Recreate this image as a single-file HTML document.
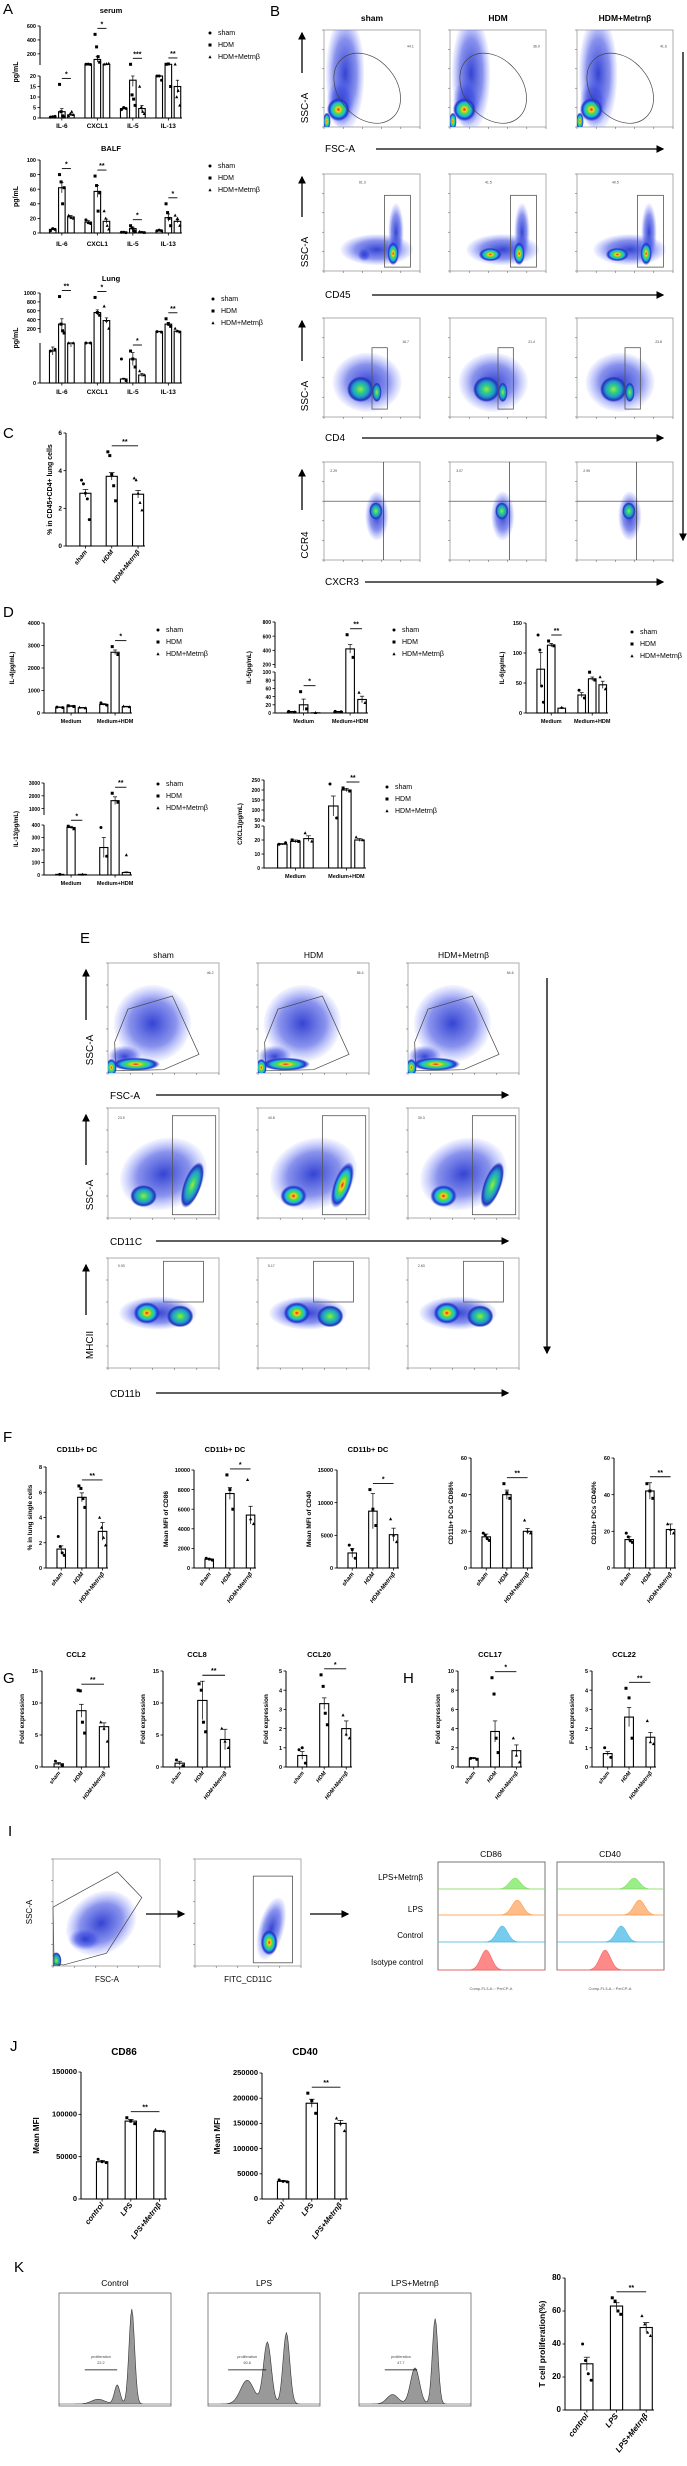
<!DOCTYPE html>
<html><head><meta charset="utf-8"><style>
html,body{margin:0;padding:0;background:#fff;}
svg{display:block;font-family:"Liberation Sans",Arial,sans-serif;}
</style></head><body>
<svg id="fig" width="687" height="2466" viewBox="0 0 687 2466" xmlns="http://www.w3.org/2000/svg">
<defs>
<radialGradient id="heat"><stop offset="0" stop-color="#e11"/><stop offset="0.18" stop-color="#fc2"/><stop offset="0.38" stop-color="#4d4"/><stop offset="0.58" stop-color="#2bd"/><stop offset="0.8" stop-color="#23c"/><stop offset="1" stop-color="#23c" stop-opacity="0"/></radialGradient>
<radialGradient id="heatg"><stop offset="0" stop-color="#9e3"/><stop offset="0.3" stop-color="#3c8"/><stop offset="0.6" stop-color="#29c"/><stop offset="0.85" stop-color="#23b"/><stop offset="1" stop-color="#23b" stop-opacity="0"/></radialGradient>
<radialGradient id="cloud"><stop offset="0" stop-color="#2a3ad0" stop-opacity="0.95"/><stop offset="0.6" stop-color="#3a4ae0" stop-opacity="0.6"/><stop offset="1" stop-color="#6070ff" stop-opacity="0.05"/></radialGradient>
<marker id="ah" markerWidth="6" markerHeight="6" refX="5" refY="3" orient="auto"><path d="M0,0 L6,3 L0,6 z" fill="#000"/></marker>
</defs>
</svg>
<script>
// ---------- DATA ----------
const groupNames = ['sham','HDM','HDM+Metrnβ'];
const aCats = ['IL-6','CXCL1','IL-5','IL-13'];
const serumVals = [[0.5,3,1.5],[50,120,50],[4.5,18,4.5],[30,50,15]];
const serumErr  = [[0.1,1.5,0.5],[3,40,3],[0.5,3,1.5],[2,3,3]];
const serumDots = [[[0.4,0.6,0.8],[16,3,1,0.5],[1,2,3,1.5]],[[50,52,48],[480,300,160,80],[50,55,60]],[[4,5,4.5],[50,11,9,6],[15,5,3,2]],[[20,20,18],[50,55,15],[50,10,13,6]]];
const balfVals = [[5,62,22],[15,57,16],[1,6,1.5],[3,21,16]];
const balfErr  = [[1,7,2],[2,8,3],[0.3,2,0.5],[0.5,5,2]];
const balfDots = [[[3,6,5],[80,70,40,62],[24,21,20]],[[18,14,13],[78,65,30,55],[30,20,10,5]],[[1,1,0.5],[10,7,3,2],[2,1,0.5]],[[3,4,3],[40,28,20,10],[24,20,10]]];
const lungVals = [[40,300,50],[60,560,380],[5,30,10],[130,300,140]];
const lungErr  = [[5,120,5],[8,60,60],[1,8,2],[10,40,15]];
const lungDots = [[[40,42],[920,300,150,100],[50,60]],[[60,70],[900,560,500],[700,380,200]],[[30,3],[40,30,20],[15,10]],[[130,120],[420,300,250],[200,140,120]]];
const cVals = [2.8,3.7,2.75];
const cErr = [0.2,0.2,0.2];
const cDots = [[3.5,3.3,2.8,2.5,1.4],[5,4.8,3.8,3.2,2.4],[3.6,3.5,2.8,2.3,1.9]];
const dCats = ['Medium','Medium+HDM'];
const il4Vals=[[250,300,230],[380,2700,280]]; const il4Err=[[20,30,20],[40,100,20]];
const il4Dots=[[[260,240],[320,290],[250,220]],[[450,350],[2950,2600],[300,270]]];
const il5Vals=[[3,20,0.5],[3,420,33]]; const il5Err=[[1,14,0.2],[1,60,8]];
const il5Dots=[[[4,2],[52,10],[0.5]],[[4,3],[620,300],[50,25]]];
const il6Vals=[[73,113,8],[30,57,47]]; const il6Err=[[28,3,1],[4,3,6]];
const il6Dots=[[[130,105,45,18],[120,112],[9]],[[38,25],[68,55],[60,40]]];
const il13Vals=[[5,380,5],[220,1620,20]]; const il13Err=[[1,10,1],[80,300,5]];
const il13Dots=[[[5],[390,370],[5]],[[380,150],[2200,1500],[160]]];
const cxclVals=[[17,19,21],[120,200,20]]; const cxclErr=[[0.5,1,2],[50,8,1]];
const cxclDots=[[[17,18],[20,19],[25,19]],[[230,60],[210,195],[22,20]]];
const fVals=[[1.5,5.6,2.9],[900,7600,5400],[2300,8700,5100],[17,40,20],[15.5,42,21]];
const fErr=[[0.25,0.35,0.7],[60,600,900],[700,2700,1000],[1.5,2.5,1.5],[1.5,4.5,3]];
const fDots=[[[2.5,1.7,1.2,1.0],[6.5,6.3,5.5,4.8],[4,3.2,2.4,1.8]],[[1000,900,800],[9500,8000,6000],[9000,5000,4500]],[[3500,2800,1500],[12000,9000,6500],[7500,5000,4000]],[[19,18,16,15],[46,41,38],[26,20,19]],[[19,17,15,14],[46,42,38],[24,21,19]]];
const fTicks=[[0,2,4,6,8],[0,2000,4000,6000,8000,10000],[0,5000,10000,15000],[0,20,40,60],[0,20,40,60]];
const fMax=[8,10000,15000,60,60];
const gNames=['CCL2','CCL8','CCL20','CCL17','CCL22'];
const gVals=[[0.5,8.8,6.3],[0.6,10.4,4.3],[0.6,3.3,2.0],[0.9,3.7,1.7],[0.7,2.6,1.55]];
const gErr=[[0.2,1.0,0.6],[0.3,3.0,1.6],[0.2,0.3,0.4],[0.1,1.1,0.6],[0.1,0.5,0.25]];
const gDots=[[[0.9,0.3],[12,11.9,7,5.3],[7,6,4]],[[1.1,0.2],[13,12,7,5.5],[6,4,3]],[[0.9,1.0,0.2],[4.8,4.2,2.8,2.2],[2.7,1.7,1.5]],[[0.9,0.8],[9.3,7.6,3,1.5],[3,1.2,0.5]],[[1.0,0.5],[4.1,3.6,1.5],[2.4,1.3,1.2]]];
const gMax=[15,15,5,10,5];
const gTicks=[[0,5,10,15],[0,5,10,15],[0,1,2,3,4,5],[0,2,4,6,8,10],[0,1,2,3,4,5]];
const lpsNames=['control','LPS','LPS+Metrnβ'];
const jVals=[[44000,92000,80000],[35000,190000,150000]];
const jErr=[[1500,2000,1000],[2000,8000,6000]];
const jDots=[[[47000,44000,43000],[96000,92000,89000],[82000,80000]],[[38000,35000,34000],[210000,195000,170000],[160000,150000,135000]]];
const kVals=[28,63,50];
const kErr=[4,2,3];
const kDots=[[40,30,22,18],[68,66,60,58],[57,52,47,45]];

// ---------- helpers ----------
const NS='http://www.w3.org/2000/svg';
const svg=document.getElementById('fig');
function mk(tag,attrs,parent){const e=document.createElementNS(NS,tag);for(const k in attrs)e.setAttribute(k,attrs[k]);(parent||svg).appendChild(e);return e;}
function txt(x,y,s,opt,parent){const t=mk('text',Object.assign({x:x,y:y,'font-size':7,'text-anchor':'middle',fill:'#000'},opt||{}),parent);t.textContent=s;return t;}
function fmt(v){return String(v);}

function panelLetter(x,y,s){const t=txt(x,y,s,{'font-size':15,'text-anchor':'start'});

}

function marker(g,shape,x,y){let e;
 if(shape===0)e=mk('circle',{cx:x,cy:y,r:1.5,fill:'#000'},g);
 else if(shape===1)e=mk('rect',{x:x-1.5,y:y-1.5,width:3,height:3,fill:'#000'},g);
 else e=mk('path',{d:`M${x},${y-1.8}L${x+1.6},${y+1.2}L${x-1.6},${y+1.2}Z`,fill:'#000'},g);
 
 }

function legend(x,y,name){const g=mk('g',{});
 
 
 groupNames.forEach((n,i)=>{marker(g,i,x,y+i*12-2);txt(x+8,y+i*12,n,{'text-anchor':'start','font-size':7},g);});}

function barChart(c){
 const g=mk('g',{});
 
 
 const segs=c.segs;
 function Y(v){for(let i=0;i<segs.length;i++){const s=segs[i];if(v<=s[1]){if(v<s[0])return segs[i-1]?segs[i-1][3]:s[2];return s[2]+(v-s[0])/(s[1]-s[0])*(s[3]-s[2]);}}const l=segs[segs.length-1];return l[3];}
 const nC=c.vals.length,G=c.vals[0].length;
 const unit=(c.x1-c.x0)/(nC*G+(nC-1)*0.9+0.9);
 const bw=unit*(c.bwf||0.72);
 const base=Y(0);
 segs.forEach(s=>{const a=mk('line',{x1:c.x0,x2:c.x0,y1:s[2],y2:s[3],stroke:'#000','stroke-width':1},g);
   });
 const xa=mk('line',{x1:c.x0,x2:c.x1,y1:base,y2:base,stroke:'#000','stroke-width':1},g);
  
 c.ticks.forEach(t=>{const yy=Y(t);mk('line',{x1:c.x0-2.5,x2:c.x0,y1:yy,y2:yy,stroke:'#000','stroke-width':0.8},g);
  const tl=txt(c.x0-4,yy+2.2,fmt(t),{'text-anchor':'end','font-size':c.tfs||6,'font-weight':'bold'},g);
   });
 const centers=[];const tops=[];
 for(let ci=0;ci<nC;ci++){for(let gi=0;gi<G;gi++){
  const cx=c.x0+unit*(0.9+ci*(G+0.9)+gi+0.5);centers.push(cx);
  const v=c.vals[ci][gi],yv=Y(v);
  const b=mk('rect',{x:cx-bw/2,y:Math.min(yv,base),width:bw,height:Math.abs(base-yv),fill:'#fff',stroke:'#000','stroke-width':1.1},g);
  
  
  const e=c.errs?c.errs[ci][gi]:0;
  if(e){const y1=Y(v+e),y2=Y(Math.max(0,v-e));
   mk('line',{x1:cx,x2:cx,y1:y1,y2:y2,stroke:'#000','stroke-width':0.7},g);
   mk('line',{x1:cx-bw*0.25,x2:cx+bw*0.25,y1:y1,y2:y1,stroke:'#000','stroke-width':0.7},g);}
  let top=Y(v+e);
  const shape=G>1?gi:ci;
  if(c.dots){const d=c.dots[ci][gi];d.forEach((dv,k)=>{const off=d.length>1?(k/(d.length-1)-0.5)*bw*0.7:0;const yy=Y(dv);top=Math.min(top,yy);marker(g,shape,cx+off,yy);});}
  tops.push(top);
 }
  if(G>1){const gc=(centers[ci*G]+centers[ci*G+G-1])/2;
   if(c.tickCats){mk('line',{x1:gc,x2:gc,y1:base,y2:base+2.5,stroke:'#000','stroke-width':0.8},g);}
   const l=txt(gc,base+(c.catDy||10),c.cats[ci],{'font-size':c.cfs||6.5,'font-weight':'bold'},g);
    }
 }
 if(G===1){centers.forEach((cx,i)=>{mk('line',{x1:cx,x2:cx,y1:base,y2:base+2.5,stroke:'#000','stroke-width':0.8},g);
  const l=txt(cx+2,base+6,c.cats[i],{'text-anchor':'end','font-size':c.cfs||6.5,'font-weight':'bold','font-style':'italic',transform:`rotate(-52 ${cx+2} ${base+6})`},g);
   });}
 (c.sig||[]).forEach(s=>{const a=s[0],b=s[1];const yy=Math.min(...tops.slice(a,b+1))-(s[3]||6);
  const ln=mk('line',{x1:centers[a],x2:centers[b],y1:yy,y2:yy,stroke:'#000','stroke-width':0.9},g);
   
  txt((centers[a]+centers[b])/2,yy-2,s[2],{'font-size':7,'font-weight':'bold'},g);});
 if(c.title){const t=txt((c.x0+c.x1)/2,c.titleY,c.title,{'font-size':c.titleFs||7.5,'font-weight':'bold'},g);
   }
 if(c.ylabel){const my=(segs[0][2]+segs[segs.length-1][3])/2;const yx=c.x0-(c.ylx||24);
  const t=txt(yx,my,c.ylabel,{'font-size':c.yfs||7,'font-weight':'bold',transform:`rotate(-90 ${yx} ${my})`},g);
   }
}

function arrow(x1,y1,x2,y2,name){const a=mk('line',{x1:x1,y1:y1,x2:x2,y2:y2,stroke:'#000','stroke-width':1.3,'marker-end':'url(#ah)'});
  }

function flow(name,x,y,w,h,blobs,gate,num){
 const g=mk('g',{});
 
 
 mk('rect',{x:x,y:y,width:w,height:h,fill:'#fff',stroke:'#999','stroke-width':0.8},g);
 const cp='cp'+Math.round(x)+'_'+Math.round(y);
 const cl=mk('clipPath',{id:cp},g);mk('rect',{x:x,y:y,width:w,height:h},cl);
 const inner=mk('g',{'clip-path':`url(#${cp})`},g);
 blobs.forEach(b=>{const id=b[4]==='h'?'heat':b[4]==='g'?'heatg':'cloud';
  const cx=x+b[0]*w,cy=y+b[1]*h;
  mk('ellipse',{cx:cx,cy:cy,rx:b[2]*w,ry:b[3]*h,fill:`url(#${id})`,transform:`rotate(${b[5]||0} ${cx} ${cy})`},inner);});
 if(gate){
  if(gate.t==='rect')mk('rect',{x:x+gate.a*w,y:y+gate.b*h,width:(gate.c-gate.a)*w,height:(gate.d-gate.b)*h,fill:'none',stroke:'#555','stroke-width':0.8},g);
  if(gate.t==='ell'){const cx=x+gate.a*w,cy=y+gate.b*h;mk('ellipse',{cx:cx,cy:cy,rx:gate.c*w,ry:gate.d*h,fill:'none',stroke:'#444','stroke-width':0.7,transform:`rotate(-40 ${cx} ${cy})`},inner);}
  if(gate.t==='quad'){mk('line',{x1:x+gate.a*w,x2:x+gate.a*w,y1:y,y2:y+h,stroke:'#333','stroke-width':0.7},g);mk('line',{x1:x,x2:x+w,y1:y+gate.b*h,y2:y+gate.b*h,stroke:'#333','stroke-width':0.7},g);}
  if(gate.t==='poly'){mk('polygon',{points:gate.p.map(p=>(x+p[0]*w)+','+(y+p[1]*h)).join(' '),fill:'none',stroke:'#444','stroke-width':0.7},g);}
 }
 for(let i=0;i<=5;i++){mk('line',{x1:x+i*w/5,x2:x+i*w/5,y1:y+h,y2:y+h+2,stroke:'#555','stroke-width':0.5},g);mk('line',{x1:x-2,x2:x,y1:y+h-i*h/5,y2:y+h-i*h/5,stroke:'#555','stroke-width':0.5},g);}
 if(num)txt(x+(num[1]||0.9)*w,y+(num[2]||0.15)*h,num[0],{'font-size':3.5,fill:'#444'},g);
}

// ---------- PANEL A ----------
panelLetter(3,14,'A');
barChart({name:'serum-chart',x0:40,x1:182,segs:[[0,20,118,76],[40,600,65,26]],ticks:[0,5,10,15,20,200,400,600],vals:serumVals,errs:serumErr,dots:serumDots,cats:aCats,sig:[[1,2,'*'],[4,5,'*'],[7,8,'***'],[10,11,'**']],title:'serum',titleY:13,ylabel:'pg/mL',ylx:22,tfs:5.5,tickCats:true});
legend(210,35,'serum-legend');
barChart({name:'balf-chart',x0:40,x1:182,segs:[[0,100,233,160]],ticks:[0,20,40,60,80,100],vals:balfVals,errs:balfErr,dots:balfDots,cats:aCats,sig:[[1,2,'*'],[4,5,'**'],[7,8,'*'],[10,11,'*']],title:'BALF',titleY:151,ylabel:'pg/mL',ylx:22,tfs:5.5,tickCats:true,catDy:13});
legend(210,168,'balf-legend');
barChart({name:'lung-chart',x0:40,x1:182,segs:[[0,50,383,343],[100,1000,333,293]],ticks:[0,200,400,600,800,1000],vals:lungVals,errs:lungErr,dots:lungDots,cats:aCats,sig:[[1,2,'**'],[4,5,'*'],[7,8,'*'],[10,11,'**']],title:'Lung',titleY:281,ylabel:'pg/mL',ylx:22,tfs:5.5,tickCats:true,catDy:11});
legend(213,301,'lung-legend');

// ---------- PANEL C ----------
panelLetter(3,438,'C');
barChart({name:'cd4-percent-chart',x0:66,x1:145,segs:[[0,6,546,433]],ticks:[0,2,4,6],vals:[[cVals[0]],[cVals[1]],[cVals[2]]],errs:[[cErr[0]],[cErr[1]],[cErr[2]]],dots:[[cDots[0]],[cDots[1]],[cDots[2]]],cats:groupNames,sig:[[1,2,'**']],ylabel:'% in CD45+CD4+ lung cells',ylx:14,tfs:6.5,bwf:0.8});

// ---------- PANEL B ----------
panelLetter(270,16,'B');
const bCols=[324,450,577], bW=96;
['sham','HDM','HDM+Metrnβ'].forEach((s,i)=>{const t=txt(bCols[i]+bW/2,21,s,{'font-size':8.5,'font-weight':'bold'});});
const bRows=[[30,97],[174,97],[318,99],[462,98]];
const bNums=[['44.1','36.0','41.6'],['61.3','41.5','40.5'],['16.7','21.4','23.8'],['2.29','3.07','2.99']];
bCols.forEach((x,i)=>{
 flow('b-fsc-plot-'+i,x,bRows[0][0],bW,bRows[0][1],[[0.22,0.45,0.2,0.6,'c'],[0.17,0.75,0.14,0.25,'c'],[0.15,0.82,0.12,0.12,'h'],[0.03,0.94,0.04,0.09,'h']],{t:'ell',a:0.45,b:0.6,c:0.3,d:0.4},[bNums[0][i],0.9,0.18]);
 flow('b-cd45-plot-'+i,x,bRows[1][0],bW,bRows[1][1],[[0.55,0.78,0.38,0.16,'c'],[0.75,0.6,0.08,0.3,'c'],[0.72,0.82,0.06,0.12,'h'],[0.42,0.83,i?0.12:0.07,0.07,i?'h':'c']],{t:'rect',a:0.63,b:0.22,c:0.9,d:0.96},[bNums[1][i],0.4,0.1]);
 flow('b-cd4-plot-'+i,x,bRows[2][0],bW,bRows[2][1],[[0.45,0.65,0.36,0.3,'c'],[0.38,0.72,0.14,0.13,'g'],[0.55,0.75,0.05,0.1,'g']],{t:'rect',a:0.5,b:0.3,c:0.66,d:0.92},[bNums[2][i],0.85,0.25]);
 flow('b-ccr4-plot-'+i,x,bRows[3][0],bW,bRows[3][1],[[0.55,0.55,0.12,0.25,'c'],[0.54,0.5,0.07,0.09,'g']],{t:'quad',a:0.62,b:0.4},[bNums[3][i],0.1,0.1]);
});
[['SSC-A',78],['SSC-A',222],['SSC-A',366],['CCR4',515]].forEach((l,i)=>{const t=txt(308,l[1]+30,l[0],{'font-size':10,transform:`rotate(-90 308 ${l[1]+30})`});
 arrow(302,l[1]-5,302,l[1]-45,'y-axis-arrow');});
[['FSC-A',149,376],['CD45',295,372],['CD4',438,362],['CXCR3',582,365]].forEach(l=>{const t=txt(325,l[1]+3,l[0],{'font-size':10,'text-anchor':'start'});
 arrow(l[2],l[1],663,l[1],'x-axis-arrow');});
arrow(683,52,683,540,'gating-flow-arrow');

// ---------- PANEL D ----------
panelLetter(3,617,'D');
barChart({name:'il4-chart',x0:44,x1:132,segs:[[0,4000,713,623]],ticks:[0,1000,2000,3000,4000],vals:il4Vals,errs:il4Err,dots:il4Dots,cats:dCats,sig:[[4,5,'*']],ylabel:'IL-4(pg/mL)',ylx:30,tfs:5.5,yfs:6,cfs:5.5,tickCats:true});
legend(158,632,'il4-legend');
barChart({name:'il5-chart',x0:275,x1:368,segs:[[0,100,713,672],[150,800,668,622]],ticks:[0,20,40,60,80,100,200,400,600,800],vals:il5Vals,errs:il5Err,dots:il5Dots,cats:dCats,sig:[[1,2,'*'],[4,5,'**']],ylabel:'IL-5(pg/mL)',ylx:24,tfs:5,yfs:6,cfs:5.5,tickCats:true});
legend(394,632,'il5-legend');
barChart({name:'il6-chart',x0:526,x1:608,segs:[[0,150,713,623]],ticks:[0,50,100,150],vals:il6Vals,errs:il6Err,dots:il6Dots,cats:dCats,sig:[[1,2,'**']],ylabel:'IL-6(pg/mL)',ylx:22,tfs:5.5,yfs:6,cfs:5.5,tickCats:true});
legend(632,634,'il6-legend');
barChart({name:'il13-chart',x0:44,x1:132,segs:[[0,400,875,825],[500,3000,815,783]],ticks:[0,100,200,300,400,1000,2000,3000],vals:il13Vals,errs:il13Err,dots:il13Dots,cats:dCats,sig:[[1,2,'*'],[4,5,'**']],ylabel:'IL-13(pg/mL)',ylx:26,tfs:5,yfs:6,cfs:5.5,tickCats:true});
legend(158,786,'il13-legend');
barChart({name:'cxcl1-chart',x0:264,x1:366,segs:[[0,30,868,826],[40,250,822,780]],ticks:[0,10,20,30,50,100,150,200,250],vals:cxclVals,errs:cxclErr,dots:cxclDots,cats:dCats,sig:[[4,5,'**']],ylabel:'CXCL1(pg/mL)',ylx:22,tfs:5,yfs:6,cfs:5.5,tickCats:true});
legend(387,789,'cxcl1-legend');

// ---------- PANEL E ----------
panelLetter(80,943,'E');
const eCols=[108,258,408], eW=111;
['sham','HDM','HDM+Metrnβ'].forEach((s,i)=>{const t=txt(eCols[i]+eW/2,958,s,{'font-size':8.5});});
const eNums=[['46.2','56.4','54.6'],['23.9','40.8','30.3'],['0.93','5.17','2.63']];
eCols.forEach((x,i)=>{
 flow('e-fsc-plot-'+i,x,963,eW,110,[[0.4,0.55,0.35,0.35,'c',-35],[0.15,0.85,0.15,0.1,'c'],[0.25,0.92,0.22,0.06,'h'],[0.03,0.95,0.05,0.08,'h']],{t:'poly',p:[[0.07,0.98],[0.06,0.72],[0.18,0.42],[0.58,0.3],[0.82,0.83],[0.5,0.97]]},[eNums[0][i],0.92,0.1]);
 flow('e-cd11c-plot-'+i,x,1108,eW,110,[[0.5,0.6,0.4,0.32,'c',-20],[0.32,0.8,0.12,0.1,i?'h':'g'],[0.76,0.7,0.08,0.22,i===1?'h':'g',20]],{t:'rect',a:0.58,b:0.07,c:0.97,d:0.97},[eNums[1][i],0.12,0.1]);
 flow('e-mhcii-plot-'+i,x,1258,eW,110,[[0.45,0.5,0.35,0.15,'c'],[0.35,0.5,0.12,0.1,'h'],[0.65,0.53,0.12,0.1,'g']],{t:'rect',a:0.5,b:0.03,c:0.86,d:0.4},[eNums[2][i],0.12,0.08]);
});
[['SSC-A',1025],['SSC-A',1170],['MHCII',1320]].forEach(l=>{const t=txt(93,l[1]+25,l[0],{'font-size':10,transform:`rotate(-90 93 ${l[1]+25})`});
 arrow(86,l[1]-5,86,l[1]-55,'y-axis-arrow');});
[['FSC-A',1095],['CD11C',1241],['CD11b',1393]].forEach(l=>{const t=txt(110,l[1]+4,l[0],{'font-size':10,'text-anchor':'start'});
 arrow(156,l[1],508,l[1],'x-axis-arrow');});
arrow(547,978,547,1353,'gating-flow-arrow');

// ---------- PANEL F ----------
panelLetter(3,1442,'F');
const fX=[[46,108],[194,256],[337,399],[471,533],[614,676]];
const fTop=[1467,1470,1470,1458,1458];
const fTitles=['CD11b+ DC','CD11b+ DC','CD11b+ DC','',''];
const fY=['% in lung single cells','Mean MFI of CD86','Mean MFI of CD40','CD11b+ DCs CD86%','CD11b+ DCs CD40%'];
const fSig=['**','*','*','**','**'];
fVals.forEach((v,i)=>{barChart({name:'f-chart-'+i,x0:fX[i][0],x1:fX[i][1],segs:[[0,fMax[i],1568,fTop[i]]],ticks:fTicks[i],vals:v.map(a=>[a]),errs:fErr[i].map(a=>[a]),dots:fDots[i].map(a=>[a]),cats:groupNames,sig:[[1,2,fSig[i]]],title:fTitles[i],titleY:1452,ylabel:fY[i],ylx:i===0?14:(i<3?26:18),tfs:5.5,yfs:6.5,cfs:6,bwf:0.78});});

// ---------- PANEL G / H ----------
panelLetter(3,1683,'G'); panelLetter(403,1683,'H');
const gX=[[42,110],[163,231],[286,352],[458,522],[592,656]];
const gSig=['**','**','*','*','**'];
gVals.forEach((v,i)=>{barChart({name:'g-chart-'+gNames[i].toLowerCase(),x0:gX[i][0],x1:gX[i][1],segs:[[0,gMax[i],1767,1671]],ticks:gTicks[i],vals:v.map(a=>[a]),errs:gErr[i].map(a=>[a]),dots:gDots[i].map(a=>[a]),cats:groupNames,sig:[[1,2,gSig[i]]],title:gNames[i],titleY:1657,ylabel:'Fold expression',ylx:18,tfs:5.5,yfs:6.5,cfs:5.5,bwf:0.78});});

// ---------- PANEL I ----------
panelLetter(8,1836,'I');
flow('i-fsc-plot',53,1859,107,107,[[0.45,0.6,0.35,0.28,'c',-35],[0.3,0.75,0.15,0.1,'c'],[0.03,0.95,0.05,0.08,'g']],{t:'poly',p:[[0.01,0.98],[0.0,0.45],[0.6,0.12],[0.83,0.36],[0.5,0.88],[0.1,0.99]]});
flow('i-cd11c-plot',195,1859,106,107,[[0.72,0.65,0.12,0.3,'c',15],[0.7,0.78,0.08,0.12,'h']],{t:'rect',a:0.55,b:0.16,c:0.92,d:0.97});
const t1=txt(32,1912,'SSC-A',{'font-size':8,transform:'rotate(-90 32 1912)'});
const t2=txt(107,1982,'FSC-A',{'font-size':8});
const t3=txt(248,1982,'FITC_CD11C',{'font-size':8});
arrow(146,1914,184,1914,'gating-arrow'); arrow(310,1914,348,1914,'gating-arrow');
const histRows=[['LPS+Metrnβ','#9e8','#8d6',1880],['LPS','#fb8','#f9a050',1912],['Control','#7ce','#5bd',1938],['Isotype control','#f88','#e66',1965]];
histRows.forEach(r=>{const t=txt(423,r[3],r[0],{'font-size':8,'text-anchor':'end'});});
const histPeaks=[[0.72,0.55],[0.74,0.75],[0.6,0.8],[0.45,1.0]];
function gaussPath(x,w,yb,hgt,mu,sd){let d=`M${x},${yb}`;for(let k=0;k<=60;k++){const f=k/60;d+=`L${x+f*w},${yb-hgt*Math.exp(-((f-mu)*(f-mu))/(2*sd*sd))}`;}return d+`L${x+w},${yb}Z`;}
[[438,'CD86'],[557,'CD40']].forEach((b,bi)=>{
 const g=mk('g',{});
 mk('rect',{x:b[0],y:1862,width:107,height:108,fill:'#fff',stroke:'#555','stroke-width':0.8},g);
 txt(b[0]+53,1857,b[1],{'font-size':8.5},g);
 const bases=[1889,1915,1942,1970];
 histRows.forEach((r,i)=>{const pk=histPeaks[i];const mu=bi&&i===1?0.77:pk[0];
  mk('path',{d:gaussPath(b[0],107,bases[i],pk[1]*20,mu,0.05),fill:r[1],stroke:r[2],'stroke-width':0.6},g);
  mk('line',{x1:b[0],x2:b[0]+107,y1:bases[i],y2:bases[i],stroke:r[2],'stroke-width':0.8},g);});
 txt(b[0]+53,1990,'Comp-FL3-A :: PerCP-A',{'font-size':4,fill:'#555'},g);
});

// ---------- PANEL J ----------
panelLetter(10,2051,'J');
barChart({name:'j-cd86-chart',x0:81,x1:167,segs:[[0,150000,2199,2072]],ticks:[0,50000,100000,150000],vals:jVals[0].map(a=>[a]),errs:jErr[0].map(a=>[a]),dots:jDots[0].map(a=>[a]),cats:lpsNames,sig:[[1,2,'**']],title:'CD86',titleY:2055,titleFs:10,ylabel:'Mean MFI',ylx:42,tfs:7.5,yfs:8,cfs:7.5,bwf:0.75});
barChart({name:'j-cd40-chart',x0:262,x1:348,segs:[[0,250000,2199,2073]],ticks:[0,50000,100000,150000,200000,250000],vals:jVals[1].map(a=>[a]),errs:jErr[1].map(a=>[a]),dots:jDots[1].map(a=>[a]),cats:lpsNames,sig:[[1,2,'**']],title:'CD40',titleY:2055,titleFs:10,ylabel:'Mean MFI',ylx:42,tfs:7.5,yfs:8,cfs:7.5,bwf:0.75});

// ---------- PANEL K ----------
panelLetter(14,2272,'K');
const kTitles=['Control','LPS','LPS+Metrnβ'];
const kBox=[59,208,359];
const kPeaks=[[[0.65,1.0,0.025],[0.52,0.2,0.025],[0.35,0.05,0.06]],[[0.7,0.75,0.03],[0.53,0.65,0.035],[0.35,0.25,0.06]],[[0.68,0.9,0.025],[0.5,0.38,0.04],[0.3,0.1,0.05]]];
const kNums=['22.2','60.6','47.7'];
kBox.forEach((x,i)=>{const g=mk('g',{});
 mk('rect',{x:x,y:2293,width:112,height:113,fill:'#fff',stroke:'#666','stroke-width':0.8},g);
 txt(x+56,2286,kTitles[i],{'font-size':8.5},g);
 let d=`M${x},2404`;for(let k=0;k<=100;k++){const f=k/100;let h=0;kPeaks[i].forEach(p=>{h+=p[1]*Math.exp(-((f-p[0])*(f-p[0]))/(2*p[2]*p[2]));});d+=`L${x+f*112},${2404-h*95}`;}
 mk('path',{d:d+`L${x+112},2404Z`,fill:'#999',stroke:'#333','stroke-width':0.6},g);
 const bx=x+[0.23,0.18,0.23][i]*112,ex=x+0.68*112,by=2293+0.68*113;
 mk('line',{x1:bx,x2:ex-18,y1:by,y2:by,stroke:'#000','stroke-width':0.8},g);
 txt((bx+ex-18)/2,by-12,'proliferation',{'font-size':3.8,fill:'#444'},g);txt((bx+ex-18)/2,by-6,kNums[i],{'font-size':3.8,fill:'#444'},g);
});
barChart({name:'k-proliferation-chart',x0:565,x1:654,segs:[[0,80,2410,2278]],ticks:[0,20,40,60,80],vals:kVals.map(a=>[a]),errs:kErr.map(a=>[a]),dots:kDots.map(a=>[a]),cats:lpsNames,sig:[[1,2,'**']],ylabel:'T cell proliferation(%)',ylx:20,tfs:8,yfs:8.5,cfs:8,bwf:0.78});
</script>
</body></html>
